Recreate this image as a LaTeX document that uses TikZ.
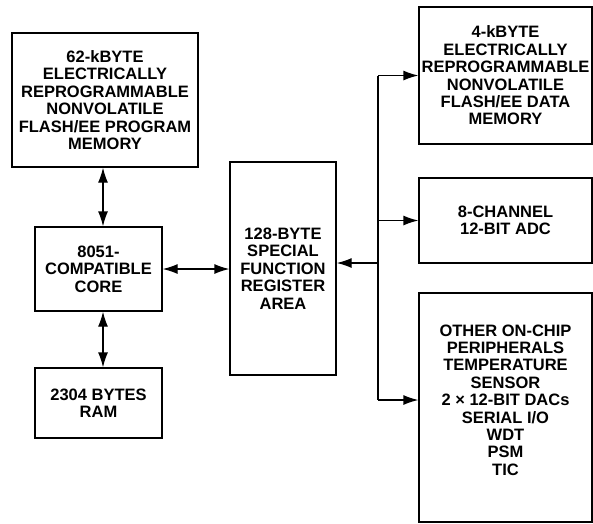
\documentclass[tikz,border=0pt]{standalone}
\usepackage{fontspec}
\setmainfont{Liberation Sans}
\usetikzlibrary{arrows.meta}
\usetikzlibrary{positioning}
\usetikzlibrary{calc}

\begin{document}
\begin{tikzpicture}[
    x=1pt, y=-1pt,
    every node/.style={font=\fontsize{16.5}{17.4}\selectfont\bfseries, align=center, inner sep=0pt},
    block/.style={draw, line width=1.3pt, minimum width=#1},
    arr/.style={line width=1.3pt, -{Latex[length=15pt,width=10pt]}},
    biarr/.style={line width=1.3pt, {Latex[length=15pt,width=10pt]}-{Latex[length=15pt,width=10pt]}}]

\useasboundingbox (0,0) rectangle (593,523);

% Blocks
\node[block=186pt, minimum height=134pt] (progmem) at (105,100)
    {62-kBYTE\\ELECTRICALLY\\REPROGRAMMABLE\\NONVOLATILE\\FLASH/EE PROGRAM\\MEMORY};
\node[block=127pt, minimum height=84pt] (core) at (98.5,269)
    {8051-\\COMPATIBLE\\CORE};
\node[block=127pt, minimum height=70pt] (ram) at (98.5,403)
    {2304 BYTES\\RAM};
\node[block=106pt, minimum height=213pt] (sfr) at (283,268.5)
    {128-BYTE\\SPECIAL\\FUNCTION\\REGISTER\\AREA};
\node[block=173pt, minimum height=137pt] (datamem) at (505.5,75.5)
    {4-kBYTE\\ELECTRICALLY\\REPROGRAMMABLE\\NONVOLATILE\\FLASH/EE DATA\\MEMORY};
\node[block=173pt, minimum height=85pt] (adc) at (505.5,220.5)
    {8-CHANNEL\\12-BIT ADC};
\node[block=173pt, minimum height=229pt] (other) at (505.5,407.5) {};
\node (othertext) at (505.5,400)
    {OTHER ON-CHIP\\PERIPHERALS\\TEMPERATURE\\SENSOR\\2 × 12-BIT DACs\\SERIAL I/O\\WDT\\PSM\\TIC};

% Tap points
\coordinate (corex) at (103,0);
\coordinate (bus) at (378,0);
\coordinate (sfrin) at (0,263);
\coordinate (otherin) at (0,400);

% Arrows
\draw[biarr] (progmem.south -| corex) -- (core.north -| corex);
\draw[biarr] (core.south -| corex) -- (ram.north -| corex);
\draw[biarr] (core.east) -- (core.east -| sfr.west);
\draw[line width=1.3pt] (bus |- datamem.west) -- (bus |- otherin);
\draw[arr] (bus |- datamem.west) -- (datamem.west);
\draw[arr] (bus |- adc.west) -- (adc.west);
\draw[arr] (bus |- otherin) -- (other.west |- otherin);
\draw[arr] (bus |- sfrin) -- (sfr.east |- sfrin);
\end{tikzpicture}
\end{document}
